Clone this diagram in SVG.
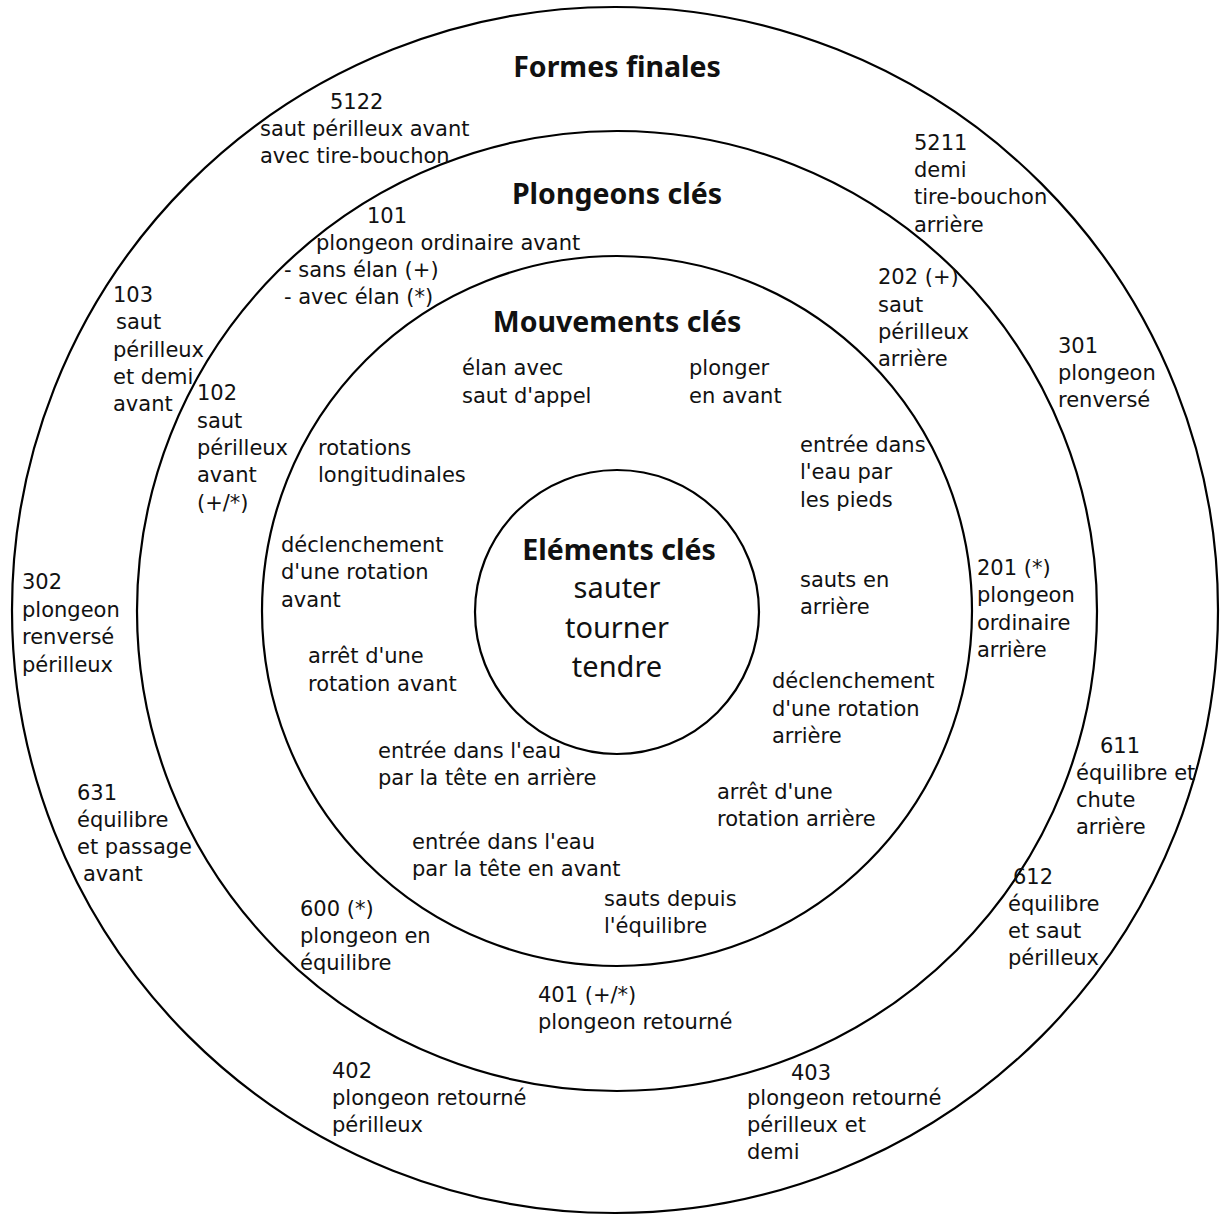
<svg xmlns="http://www.w3.org/2000/svg" width="1220" height="1215" viewBox="0 0 1220 1215">
<style>
.ring{fill:none;stroke:#000;stroke-width:2.2}
text{font-family:"DejaVu Sans","Noto Sans",sans-serif;fill:#111}
.t{font-size:21px}
.h{font-family:"Noto Sans","Open Sans",sans-serif;font-size:28.5px;font-weight:bold;text-anchor:middle}
.c{font-family:"Noto Sans","Open Sans",sans-serif;font-size:29px;text-anchor:middle}
</style>
<rect width="1220" height="1215" fill="#fff"/>
<g id="rings">
<circle class="ring" cx="615" cy="610" r="603"/>
<circle class="ring" cx="617" cy="611" r="480"/>
<circle class="ring" cx="617" cy="611" r="355"/>
<circle class="ring" cx="617" cy="612" r="142"/>
</g>
<g id="formes-finales">
<text class="h" x="617" y="77">Formes finales</text>
<g id="n5122"><text class="t" x="330" y="109">5122</text><text class="t" x="260" y="136">saut périlleux avant</text><text class="t" x="260" y="163">avec tire-bouchon</text></g>
<g id="n5211"><text class="t" x="914" y="150">5211</text><text class="t" x="914" y="177">demi</text><text class="t" x="914" y="204">tire-bouchon</text><text class="t" x="914" y="232">arrière</text></g>
<g id="n103"><text class="t" x="113" y="302">103</text><text class="t" x="116" y="329">saut</text><text class="t" x="113" y="357">périlleux</text><text class="t" x="113" y="384">et demi</text><text class="t" x="113" y="411">avant</text></g>
<g id="n301"><text class="t" x="1058" y="353">301</text><text class="t" x="1058" y="380">plongeon</text><text class="t" x="1058" y="407">renversé</text></g>
<g id="n302"><text class="t" x="22" y="589">302</text><text class="t" x="22" y="617">plongeon</text><text class="t" x="22" y="644">renversé</text><text class="t" x="22" y="672">périlleux</text></g>
<g id="n611"><text class="t" x="1100" y="753">611</text><text class="t" x="1076" y="780">équilibre et</text><text class="t" x="1076" y="807">chute</text><text class="t" x="1076" y="834">arrière</text></g>
<g id="n631"><text class="t" x="77" y="800">631</text><text class="t" x="77" y="827">équilibre</text><text class="t" x="77" y="854">et passage</text><text class="t" x="83" y="881">avant</text></g>
<g id="n612"><text class="t" x="1013" y="884">612</text><text class="t" x="1008" y="911">équilibre</text><text class="t" x="1008" y="938">et saut</text><text class="t" x="1008" y="965">périlleux</text></g>
<g id="n402"><text class="t" x="332" y="1078">402</text><text class="t" x="332" y="1105">plongeon retourné</text><text class="t" x="332" y="1132">périlleux</text></g>
<g id="n403"><text class="t" x="791" y="1080">403</text><text class="t" x="747" y="1105">plongeon retourné</text><text class="t" x="747" y="1132">périlleux et</text><text class="t" x="747" y="1159">demi</text></g>
</g>
<g id="plongeons-cles">
<text class="h" x="617" y="204">Plongeons clés</text>
<g id="n101"><text class="t" x="367" y="223">101</text><text class="t" x="316" y="250">plongeon ordinaire avant</text><text class="t" x="284" y="277">- sans élan (+)</text><text class="t" x="284" y="304">- avec élan (*)</text></g>
<g id="n202"><text class="t" x="878" y="284">202 (+)</text><text class="t" x="878" y="312">saut</text><text class="t" x="878" y="339">périlleux</text><text class="t" x="878" y="366">arrière</text></g>
<g id="n102"><text class="t" x="197" y="400">102</text><text class="t" x="197" y="428">saut</text><text class="t" x="197" y="455">périlleux</text><text class="t" x="197" y="482">avant</text><text class="t" x="197" y="510">(+/*)</text></g>
<g id="n201"><text class="t" x="977" y="575">201 (*)</text><text class="t" x="977" y="602">plongeon</text><text class="t" x="977" y="630">ordinaire</text><text class="t" x="977" y="657">arrière</text></g>
<g id="n600"><text class="t" x="300" y="916">600 (*)</text><text class="t" x="300" y="943">plongeon en</text><text class="t" x="300" y="970">équilibre</text></g>
<g id="n401"><text class="t" x="538" y="1002">401 (+/*)</text><text class="t" x="538" y="1029">plongeon retourné</text></g>
</g>
<g id="mouvements-cles">
<text class="h" x="617" y="332">Mouvements clés</text>
<g id="m-elan"><text class="t" x="462" y="375">élan avec</text><text class="t" x="462" y="403">saut d'appel</text></g>
<g id="m-plonger"><text class="t" x="689" y="375">plonger</text><text class="t" x="689" y="403">en avant</text></g>
<g id="m-rotations"><text class="t" x="318" y="455">rotations</text><text class="t" x="318" y="482">longitudinales</text></g>
<g id="m-entree-pieds"><text class="t" x="800" y="452">entrée dans</text><text class="t" x="800" y="479">l'eau par</text><text class="t" x="800" y="507">les pieds</text></g>
<g id="m-decl-avant"><text class="t" x="281" y="552">déclenchement</text><text class="t" x="281" y="579">d'une rotation</text><text class="t" x="281" y="607">avant</text></g>
<g id="m-sauts-arriere"><text class="t" x="800" y="587">sauts en</text><text class="t" x="800" y="614">arrière</text></g>
<g id="m-arret-avant"><text class="t" x="308" y="663">arrêt d'une</text><text class="t" x="308" y="691">rotation avant</text></g>
<g id="m-decl-arriere"><text class="t" x="772" y="688">déclenchement</text><text class="t" x="772" y="716">d'une rotation</text><text class="t" x="772" y="743">arrière</text></g>
<g id="m-entree-arriere"><text class="t" x="378" y="758">entrée dans l'eau</text><text class="t" x="378" y="785">par la tête en arrière</text></g>
<g id="m-arret-arriere"><text class="t" x="717" y="799">arrêt d'une</text><text class="t" x="717" y="826">rotation arrière</text></g>
<g id="m-entree-avant"><text class="t" x="412" y="849">entrée dans l'eau</text><text class="t" x="412" y="876">par la tête en avant</text></g>
<g id="m-sauts-equilibre"><text class="t" x="604" y="906">sauts depuis</text><text class="t" x="604" y="933">l'équilibre</text></g>
</g>
<g id="elements-cles">
<text class="h" x="619" y="560">Eléments clés</text>
<text class="c" x="617" y="598">sauter</text>
<text class="c" x="617" y="638">tourner</text>
<text class="c" x="617" y="677">tendre</text>
</g>
</svg>
